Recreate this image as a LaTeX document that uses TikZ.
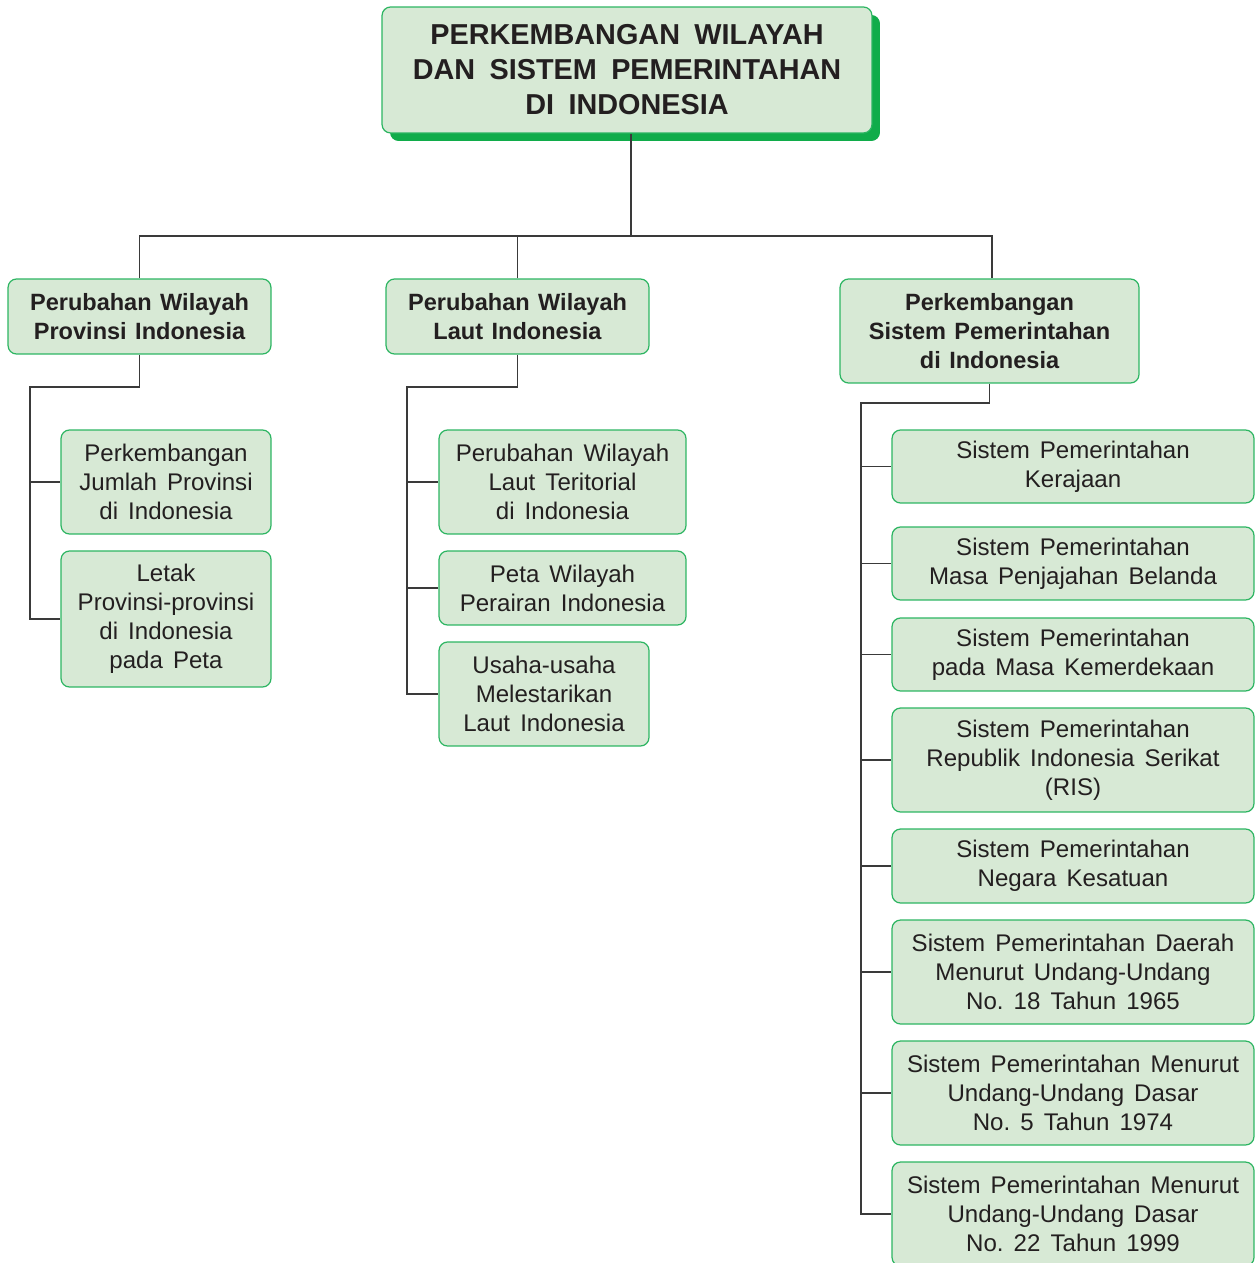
\documentclass[tikz,border=0pt]{standalone}
\usepackage{fontspec}
\setmainfont{Liberation Sans}
\usetikzlibrary{shadows}
\definecolor{boxfill}{HTML}{D7E9D5}
\definecolor{boxline}{HTML}{2DB562}
\definecolor{shadowgreen}{HTML}{10AC4A}
\definecolor{linkgray}{HTML}{3A3A3A}
\definecolor{ink}{HTML}{231F20}
\newcommand{\widespace}[1]{\frenchspacing\spaceskip=#1em plus 0.1em minus 0.05em\relax}
\tikzset{
  box/.style={draw=boxline, fill=boxfill, line width=0.7pt, rounded corners=0.17cm,
    align=center, inner sep=0pt, text=ink,
    font=\fontsize{13.7}{16.5}\selectfont\widespace{0.42}},
  headbox/.style={box, font=\fontsize{13.4}{16.5}\selectfont\bfseries\widespace{0.36}},
  titlebox/.style={box, font=\fontsize{16.4}{19.9}\selectfont\bfseries\widespace{0.5},
    drop shadow={shadow xshift=0.16cm, shadow yshift=-0.16cm, fill=shadowgreen, opacity=1}},
  link/.style={draw=linkgray, line width=0.8pt}
}
\begin{document}
\begin{tikzpicture}[x=0.02cm, y=-0.02cm]
\useasboundingbox (0,0) rectangle (1256,1263);
% title
\node[titlebox, minimum width=9.8cm, minimum height=2.52cm] (title) at (627,70)
  {PERKEMBANGAN WILAYAH\\DAN SISTEM PEMERINTAHAN\\DI INDONESIA};
% second level
\node[headbox, minimum width=5.26cm, minimum height=1.5cm] (prov) at (139.5,316.5)
  {Perubahan Wilayah\\Provinsi Indonesia};
\node[headbox, minimum width=5.26cm, minimum height=1.5cm] (laut) at (517.5,316.5)
  {Perubahan Wilayah\\Laut Indonesia};
\node[headbox, minimum width=5.98cm, minimum height=2.08cm] (sist) at (989.5,331)
  {Perkembangan\\Sistem Pemerintahan\\di Indonesia};
% left column
\node[box, minimum width=4.2cm, minimum height=2.08cm] (prov1) at (166,482)
  {Perkembangan\\Jumlah Provinsi\\di Indonesia};
\node[box, minimum width=4.2cm, minimum height=2.72cm] (prov2) at (166,619)
  {Letak\\Provinsi-provinsi\\di Indonesia\\pada Peta};
% middle column
\node[box, minimum width=4.94cm, minimum height=2.08cm] (laut1) at (562.5,482)
  {Perubahan Wilayah\\Laut Teritorial\\di Indonesia};
\node[box, minimum width=4.94cm, minimum height=1.48cm] (laut2) at (562.5,588)
  {Peta Wilayah\\Perairan Indonesia};
\node[box, minimum width=4.2cm, minimum height=2.08cm] (laut3) at (544,694)
  {Usaha-usaha\\Melestarikan\\Laut Indonesia};
% right column
\node[box, minimum width=7.24cm, minimum height=1.46cm] (sist1) at (1073,466.5)
  {Sistem Pemerintahan\\Kerajaan};
\node[box, minimum width=7.24cm, minimum height=1.46cm] (sist2) at (1073,563.5)
  {Sistem Pemerintahan\\Masa Penjajahan Belanda};
\node[box, minimum width=7.24cm, minimum height=1.46cm] (sist3) at (1073,654.5)
  {Sistem Pemerintahan\\pada Masa Kemerdekaan};
\node[box, minimum width=7.24cm, minimum height=2.08cm] (sist4) at (1073,760)
  {Sistem Pemerintahan\\Republik Indonesia Serikat\\(RIS)};
\node[box, minimum width=7.24cm, minimum height=1.48cm] (sist5) at (1073,866)
  {Sistem Pemerintahan\\Negara Kesatuan};
\node[box, minimum width=7.24cm, minimum height=2.08cm] (sist6) at (1073,972)
  {Sistem Pemerintahan Daerah\\Menurut Undang-Undang\\No. 18 Tahun 1965};
\node[box, minimum width=7.24cm, minimum height=2.08cm] (sist7) at (1073,1093)
  {Sistem Pemerintahan Menurut\\Undang-Undang Dasar\\No. 5 Tahun 1974};
\node[box, minimum width=7.24cm, minimum height=2.08cm] (sist8) at (1073,1214)
  {Sistem Pemerintahan Menurut\\Undang-Undang Dasar\\No. 22 Tahun 1999};
% connectors
\coordinate (bus) at (0,236);
\coordinate (jprov) at (30,387);
\coordinate (jlaut) at (407,387);
\coordinate (jsist) at (861,403);
\draw[link] ([xshift=0.08cm]title.south) -- ([xshift=0.08cm]title.south |- bus);
\draw[link] (prov.north) |- ([xshift=0.05cm]sist.north |- bus) -- ([xshift=0.05cm]sist.north);
\draw[link] (laut.north) -- (laut.north |- bus);
\draw[link] (prov.south) |- (jprov) |- (prov2.west);
\draw[link] (jprov |- prov1.west) -- (prov1.west);
\draw[link] (laut.south) |- (jlaut) |- (laut3.west);
\foreach \n in {laut1,laut2}
  \draw[link] (jlaut |- \n.west) -- (\n.west);
\draw[link] (sist.south) |- (jsist) |- (sist8.west);
\foreach \n in {sist1,sist2,sist3,sist4,sist5,sist6,sist7}
  \draw[link] (jsist |- \n.west) -- (\n.west);
\end{tikzpicture}
\end{document}
